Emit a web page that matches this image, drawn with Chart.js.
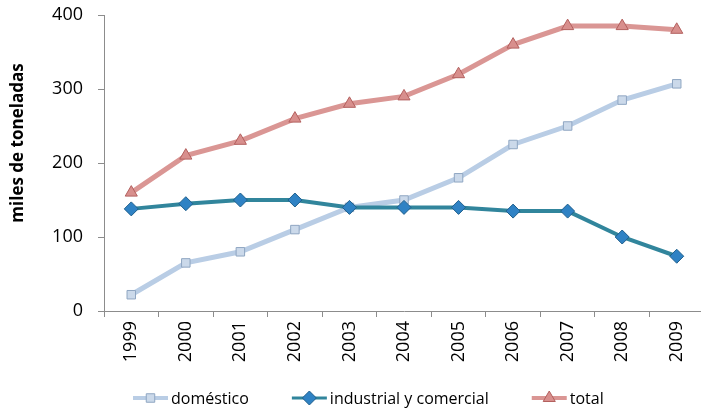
<!DOCTYPE html>
<html>
<head>
<meta charset="utf-8">
<script src="https://cdn.jsdelivr.net/npm/chart.js@4"></script>
<style>
  html, body { margin: 0; padding: 0; background: #fff; overflow: hidden; }
  #wrap { width: 712px; height: 411px; }
</style>
</head>
<body>
<div id="wrap"><canvas id="chart" width="712" height="411"></canvas></div>
<script>
// years on the x axis
const years = ['1999', '2000', '2001', '2002', '2003', '2004', '2005', '2006', '2007', '2008', '2009'];

// thousand tonnes per year
const domestico = [22, 65, 80, 110, 140, 150, 180, 225, 250, 285, 307];
const industrial = [138, 145, 150, 150, 140, 140, 140, 135, 135, 100, 74];
const total = [160, 210, 230, 260, 280, 290, 320, 360, 385, 385, 380];

const yTicks = [0, 100, 200, 300, 400];
const yTitle = 'miles de toneladas';

const FONT = 'Open Sans';
const AXIS_GRAY = '#8c8c8c';

const seriesStyles = [
  { label: 'doméstico', data: domestico, line: '#b9cde5', width: 5, point: 'rect', radius: 6,
    fill: '#cbd9ea', stroke: '#8fa6c2', order: 2 },
  { label: 'industrial y comercial', data: industrial, line: '#31859c', width: 4, point: 'rectRot', radius: 7,
    fill: '#2f82c4', stroke: '#1f5f8c', order: 1 },
  { label: 'total', data: total, line: '#da9694', width: 5, point: 'triangle', radius: 7,
    fill: '#d88f8d', stroke: '#b3605e', order: 0 }
];

// rotated axis title, sits a bit above the plot's middle
const axisTitle = {
  id: 'axisTitle',
  afterDraw(chart) {
    const ctx = chart.ctx;
    ctx.save();
    ctx.translate(18, 143);
    ctx.rotate(-Math.PI / 2);
    ctx.font = 'bold 17px "' + FONT + '"';
    ctx.fillStyle = '#000';
    ctx.textAlign = 'center';
    ctx.textBaseline = 'middle';
    ctx.fillText(yTitle, 0, 0);
    ctx.restore();
  }
};

// legend drawn underneath: line segment with marker, then the text
const lineLegend = {
  id: 'lineLegend',
  afterDraw(chart) {
    const ctx = chart.ctx;
    const y = 398;
    let x = 133;
    ctx.save();
    ctx.font = '16px "' + FONT + '"';
    ctx.textBaseline = 'middle';
    seriesStyles.forEach(s => {
      ctx.strokeStyle = s.line;
      ctx.lineWidth = s.width - 1;
      ctx.beginPath();
      ctx.moveTo(x, y);
      ctx.lineTo(x + 35, y);
      ctx.stroke();
      ctx.fillStyle = s.fill;
      ctx.strokeStyle = s.stroke;
      ctx.lineWidth = 1;
      Chart.helpers.drawPoint(ctx, { pointStyle: s.point, radius: s.radius, rotation: 0, borderWidth: 1 }, x + 17.5, y);
      ctx.fillStyle = '#000';
      ctx.fillText(s.label, x + 38, y + 1);
      x += 38 + ctx.measureText(s.label).width + 43;
    });
    ctx.restore();
  }
};

new Chart(document.getElementById('chart'), {
  type: 'line',
  data: {
    labels: years,
    datasets: seriesStyles.map(s => ({
      label: s.label,
      data: s.data,
      borderColor: s.line,
      borderWidth: s.width,
      pointStyle: s.point,
      pointRadius: s.radius,
      pointBackgroundColor: s.fill,
      pointBorderColor: s.stroke,
      pointBorderWidth: 1,
      tension: 0,
      order: s.order
    }))
  },
  options: {
    responsive: false,
    animation: false,
    layout: { padding: { top: 15, right: 3, left: 0, bottom: 0 } },
    plugins: {
      legend: { display: false },
      tooltip: { enabled: false }
    },
    scales: {
      x: {
        offset: true,
        grid: { display: true, drawOnChartArea: false, offset: true, tickLength: 6, color: AXIS_GRAY },
        border: { color: AXIS_GRAY, width: 1 },
        ticks: { color: '#000', maxRotation: 90, minRotation: 90, padding: 4, font: { family: FONT, size: 18 } },
        afterFit(scale) { scale.height = 100; }
      },
      y: {
        min: 0,
        max: 400,
        afterBuildTicks(scale) { scale.ticks = yTicks.map(v => ({ value: v })); },
        grid: { display: true, drawOnChartArea: false, tickLength: 6, color: AXIS_GRAY },
        border: { color: AXIS_GRAY, width: 1 },
        ticks: { color: '#000', padding: 15, font: { family: FONT, size: 18 } },
        afterFit(scale) {
          scale.width = 104;
          // tick padding should only push labels sideways, not shrink the plot
          scale.paddingTop = 0;
          scale.paddingBottom = 0;
        }
      }
    }
  },
  plugins: [axisTitle, lineLegend]
});
</script>
</body>
</html>
